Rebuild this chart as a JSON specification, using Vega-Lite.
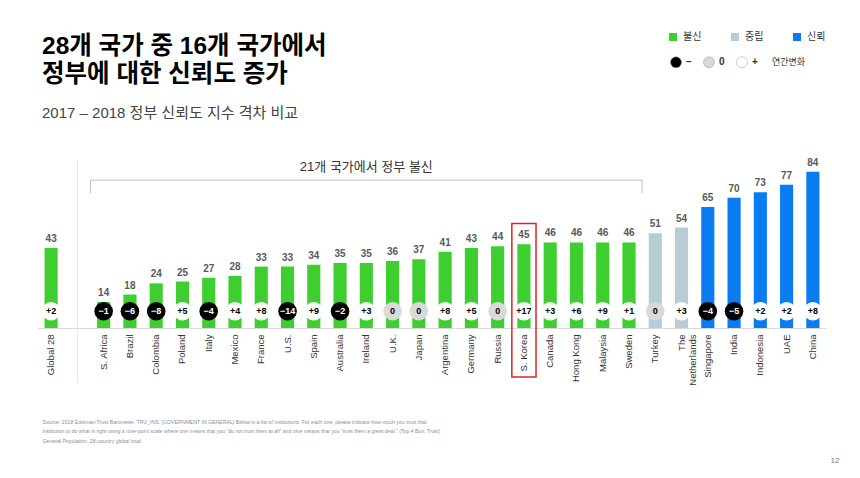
{
  "$schema": "https://vega.github.io/schema/vega-lite/v6.json",
  "width": 788,
  "height": 186,
  "autosize": {"type": "none"},
  "padding": {"left": 38, "top": 142, "right": 34, "bottom": 150},
  "background": "white",
  "config": {"font": "Liberation Sans, Noto Sans CJK KR", "view": {"stroke": null}},
  "title": {
    "text": ["28개 국가 중 16개 국가에서", "정부에 대한 신뢰도 증가"],
    "subtitle": "2017 – 2018 정부 신뢰도 지수 격차 비교",
    "anchor": "start",
    "frame": "group",
    "dx": 4,
    "fontSize": 24.5,
    "fontWeight": "bold",
    "color": "#000000",
    "lineHeight": 28,
    "subtitleFontSize": 15,
    "subtitleColor": "#444444",
    "subtitlePadding": 19,
    "offset": -90
  },
  "data": {
    "values": [
      {"c": "Global 28", "v": 43, "d": 2, "g": "불신", "s": "+"},
      {"c": "S. Africa", "v": 14, "d": -1, "g": "불신", "s": "-"},
      {"c": "Brazil", "v": 18, "d": -6, "g": "불신", "s": "-"},
      {"c": "Colombia", "v": 24, "d": -8, "g": "불신", "s": "-"},
      {"c": "Poland", "v": 25, "d": 5, "g": "불신", "s": "+"},
      {"c": "Italy", "v": 27, "d": -4, "g": "불신", "s": "-"},
      {"c": "Mexico", "v": 28, "d": 4, "g": "불신", "s": "+"},
      {"c": "France", "v": 33, "d": 8, "g": "불신", "s": "+"},
      {"c": "U.S.", "v": 33, "d": -14, "g": "불신", "s": "-"},
      {"c": "Spain", "v": 34, "d": 9, "g": "불신", "s": "+"},
      {"c": "Australia", "v": 35, "d": -2, "g": "불신", "s": "-"},
      {"c": "Ireland", "v": 35, "d": 3, "g": "불신", "s": "+"},
      {"c": "U.K.", "v": 36, "d": 0, "g": "불신", "s": "0"},
      {"c": "Japan", "v": 37, "d": 0, "g": "불신", "s": "0"},
      {"c": "Argentina", "v": 41, "d": 8, "g": "불신", "s": "+"},
      {"c": "Germany", "v": 43, "d": 5, "g": "불신", "s": "+"},
      {"c": "Russia", "v": 44, "d": 0, "g": "불신", "s": "0"},
      {"c": "S. Korea", "v": 45, "d": 17, "g": "불신", "s": "+"},
      {"c": "Canada", "v": 46, "d": 3, "g": "불신", "s": "+"},
      {"c": "Hong Kong", "v": 46, "d": 6, "g": "불신", "s": "+"},
      {"c": "Malaysia", "v": 46, "d": 9, "g": "불신", "s": "+"},
      {"c": "Sweden", "v": 46, "d": 1, "g": "불신", "s": "+"},
      {"c": "Turkey", "v": 51, "d": 0, "g": "중립", "s": "0"},
      {"c": "The Netherlands", "v": 54, "d": 3, "g": "중립", "s": "+"},
      {"c": "Singapore", "v": 65, "d": -4, "g": "신뢰", "s": "-"},
      {"c": "India", "v": 70, "d": -5, "g": "신뢰", "s": "-"},
      {"c": "Indonesia", "v": 73, "d": 2, "g": "신뢰", "s": "+"},
      {"c": "UAE", "v": 77, "d": 2, "g": "신뢰", "s": "+"},
      {"c": "China", "v": 84, "d": 8, "g": "신뢰", "s": "+"}
    ]
  },
  "layer": [
    {
      "data": {"values": [{}]},
      "mark": {"type": "rule", "color": "#e8e8e8", "strokeWidth": 1},
      "encoding": {
        "x": {"datum": " ", "type": "nominal"},
        "y": {"datum": 90.3, "type": "quantitative"},
        "y2": {"datum": -29.8}
      }
    },
    {
      "mark": {"type": "bar", "width": {"band": 0.5}},
      "encoding": {
        "x": {
          "field": "c",
          "type": "nominal",
          "sort": null,
          "scale": {
            "domain": ["Global 28", " ", "S. Africa", "Brazil", "Colombia", "Poland", "Italy", "Mexico", "France", "U.S.", "Spain", "Australia", "Ireland", "U.K.", "Japan", "Argentina", "Germany", "Russia", "S. Korea", "Canada", "Hong Kong", "Malaysia", "Sweden", "Turkey", "The Netherlands", "Singapore", "India", "Indonesia", "UAE", "China"],
            "paddingInner": 0,
            "paddingOuter": 0
          },
          "axis": {
            "title": [
              "Source: 2018 Edelman Trust Barometer. TRU_INS. [GOVERNMENT IN GENERAL] Below is a list of institutions. For each one, please indicate how much you trust that",
              "institution to do what is right using a nine-point scale where one means that you “do not trust them at all” and nine means that you “trust them a great deal.” (Top 4 Box, Trust)",
              "General Population, 28-country global total."
            ],
            "titleX": 4,
            "titleY": 91.5,
            "titleAlign": "left",
            "titleAnchor": null,
            "titleBaseline": "top",
            "titleAngle": 0,
            "titleFontSize": 5.2,
            "titleFontWeight": "normal",
            "titleColor": "#8f8f8f",
            "titleLineHeight": 9.3,
            "titleLimit": 1000,
            "domainColor": "#d9d9d9",
            "ticks": false,
            "labelAngle": 270,
            "labelFontSize": 9.5,
            "labelColor": "#333333",
            "labelPadding": 6,
            "labelLineHeight": 11,
            "labelLimit": 200,
            "labelExpr": "datum.value == 'The Netherlands' ? ['The', 'Netherlands'] : datum.value"
          }
        },
        "y": {
          "field": "v",
          "type": "quantitative",
          "scale": {"domain": [0, 100], "nice": false, "zero": false},
          "axis": {
            "title": "12",
            "domain": false,
            "labels": false,
            "ticks": false,
            "grid": false,
            "titleAngle": 0,
            "titleX": 792,
            "titleY": 318,
            "titleAlign": "left",
            "titleBaseline": "middle",
            "titleFontSize": 8,
            "titleFontWeight": "normal",
            "titleColor": "#777777"
          }
        },
        "color": {
          "field": "g",
          "type": "nominal",
          "scale": {"domain": ["불신", "중립", "신뢰"], "range": ["#3fce2f", "#b8ccd6", "#0a7cf2"]},
          "legend": {
            "title": null,
            "orient": "none",
            "legendX": 630,
            "legendY": -110,
            "direction": "horizontal",
            "symbolType": "square",
            "symbolSize": 64,
            "symbolStrokeWidth": 0,
            "labelFontSize": 10,
            "labelColor": "#333333",
            "labelOffset": 5,
            "columnPadding": 28
          }
        }
      }
    },
    {
      "mark": {"type": "text", "baseline": "bottom", "dy": -4, "fontSize": 10, "fontWeight": "bold", "color": "#595959"},
      "encoding": {
        "x": {"field": "c", "type": "nominal"},
        "y": {"field": "v", "type": "quantitative"},
        "text": {"field": "v", "type": "quantitative"}
      }
    },
    {
      "mark": {"type": "circle", "size": 346, "opacity": 1},
      "encoding": {
        "x": {"field": "c", "type": "nominal"},
        "y": {"datum": 9, "type": "quantitative"},
        "fill": {
          "field": "s",
          "type": "nominal",
          "scale": {"domain": ["-", "0", "+"], "range": ["#000000", "#d9d9d9", "#ffffff"]},
          "legend": {
            "title": "연간변화",
            "titleOrient": "right",
            "titleFontSize": 9,
            "titleFontWeight": "normal",
            "titleColor": "#333333",
            "titlePadding": 14,
            "orient": "none",
            "legendX": 632,
            "legendY": -86,
            "direction": "horizontal",
            "symbolType": "circle",
            "symbolSize": 120,
            "symbolStrokeColor": "#999999",
            "symbolStrokeWidth": 0.5,
            "labelFontSize": 10,
            "labelFontWeight": "bold",
            "labelColor": "#333333",
            "labelExpr": "datum.value == '-' ? '−' : datum.value",
            "columnPadding": 10
          }
        }
      }
    },
    {
      "mark": {"type": "text", "baseline": "middle", "fontSize": 9, "fontWeight": "bold"},
      "encoding": {
        "x": {"field": "c", "type": "nominal"},
        "y": {"datum": 9, "type": "quantitative"},
        "text": {
          "condition": {"test": "datum.d === 0", "value": "0"},
          "field": "d",
          "type": "quantitative",
          "format": "+d"
        },
        "color": {"condition": {"test": "datum.d < 0", "value": "#ffffff"}, "value": "#000000"}
      }
    },
    {
      "data": {"values": [{}]},
      "mark": {"type": "rule", "color": "#bfbfbf", "strokeWidth": 1},
      "encoding": {
        "x": {"datum": "Turkey", "type": "nominal", "bandPosition": 0},
        "x2": {"datum": "S. Africa"},
        "y": {"datum": 79.5, "type": "quantitative"}
      }
    },
    {
      "data": {"values": [{}]},
      "mark": {"type": "rule", "color": "#bfbfbf", "strokeWidth": 1},
      "encoding": {
        "x": {"datum": "S. Africa", "type": "nominal", "bandPosition": 0},
        "x2": {"datum": "S. Africa"},
        "y": {"datum": 79.5, "type": "quantitative"}
      }
    },
    {
      "data": {"values": [{}]},
      "mark": {"type": "rule", "color": "#bfbfbf", "strokeWidth": 1},
      "encoding": {
        "x": {"datum": "S. Africa", "type": "nominal", "bandPosition": 0},
        "y": {"datum": 79.5, "type": "quantitative"},
        "y2": {"datum": 72.5}
      }
    },
    {
      "data": {"values": [{}]},
      "mark": {"type": "rule", "color": "#bfbfbf", "strokeWidth": 1},
      "encoding": {
        "x": {"datum": "Turkey", "type": "nominal", "bandPosition": 0},
        "y": {"datum": 79.5, "type": "quantitative"},
        "y2": {"datum": 72.5}
      }
    },
    {
      "data": {"values": [{}]},
      "mark": {"type": "text", "baseline": "middle", "align": "center", "fontSize": 13, "color": "#333333"},
      "encoding": {
        "x": {"datum": "Ireland", "type": "nominal"},
        "y": {"datum": 86.3, "type": "quantitative"},
        "text": {"value": "21개 국가에서 정부 불신"}
      }
    },
    {
      "data": {"values": [{}]},
      "mark": {"type": "bar", "width": {"band": 0.92}, "fill": null, "fillOpacity": 0, "stroke": "#e32222", "strokeWidth": 1.5},
      "encoding": {
        "x": {"datum": "S. Korea", "type": "nominal"},
        "y": {"datum": 56.2, "type": "quantitative"},
        "y2": {"datum": -26.4}
      }
    }
  ]
}
